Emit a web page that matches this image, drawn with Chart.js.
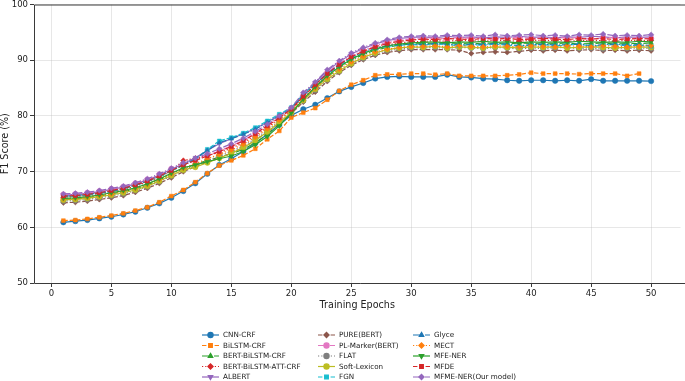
<!DOCTYPE html>
<html>
<head>
<meta charset="utf-8">
<script src="https://cdn.jsdelivr.net/npm/chart.js@4.4.1/dist/chart.umd.min.js"></script>
<style>
  html, body { margin: 0; padding: 0; background: #ffffff; overflow: hidden; }
  #wrap { width: 685px; height: 381px; position: relative; }
</style>
</head>
<body>
<div id="wrap"><canvas id="f1Chart"></canvas></div>
<script>
const epochs = [1,2,3,4,5,6,7,8,9,10,11,12,13,14,15,16,17,18,19,20,21,22,23,24,25,26,27,28,29,30,31,32,33,34,35,36,37,38,39,40,41,42,43,44,45,46,47,48,49,50];

const modelNames = ["CNN-CRF", "BiLSTM-CRF", "BERT-BiLSTM-CRF", "BERT-BiLSTM-ATT-CRF", "ALBERT",
    "PURE(BERT)", "PL-Marker(BERT)", "FLAT", "Soft-Lexicon", "FGN",
    "Glyce", "MECT", "MFE-NER", "MFDE", "MFME-NER(Our model)"];

const xTicks = [0, 5, 10, 15, 20, 25, 30, 35, 40, 45, 50];
const yTicks = [50, 60, 70, 80, 90, 100];

const cnnCrf = [60.9,61.1,61.3,61.6,61.9,62.3,62.8,63.5,64.3,65.3, 66.5,67.9,69.6,71.2,72.3,73.6,75.1,76.7,78.4,80.1, 81.2,82.0,83.2,84.4,85.2,85.9,86.7,87.0,87.1,87.0, 87.0,87.0,87.4,87.0,86.9,86.7,86.6,86.4,86.3,86.4, 86.4,86.3,86.4,86.3,86.6,86.3,86.3,86.3,86.3,86.25];
const bilstmCrf = [61.2,61.3,61.5,61.8,62.1,62.5,63.0,63.6,64.5,65.6, 66.7,68.1,69.7,71.1,72.0,72.9,74.1,75.8,77.3,79.7, 80.6,81.4,82.9,84.5,85.6,86.4,87.3,87.45,87.45,87.6, 87.6,87.4,87.6,87.2,87.2,87.2,87.2,87.3,87.45,87.75, 87.6,87.6,87.6,87.5,87.6,87.6,87.6,87.2,87.6,null];
const bertBilstmCrf = [65.0,65.1,65.3,65.6,66.0,66.4,66.9,67.6,68.5,69.5, 70.6,71.3,72.0,72.6,73.2,74.0,75.2,76.7,78.5,80.6, 83.0,85.1,87.0,88.6,90.0,91.0,91.8,92.3,92.7,92.9, 93.0,92.9,93.1,93.0,92.9,93.1,93.0,92.9,93.1,93.0, 92.9,93.0,93.1,92.9,93.0,93.1,92.9,93.0,93.0,93.1];
const bertAttCrf = [65.4,65.5,65.7,66.0,66.4,66.8,67.4,68.1,69.0,70.1, 72.0,72.4,72.9,73.4,74.2,75.2,76.5,77.9,79.5,81.0, 83.2,85.3,87.3,88.9,90.3,91.3,92.1,92.7,93.1,93.3, 93.4,93.5,93.4,93.6,93.5,93.4,93.6,93.5,93.4,93.6, 93.5,93.6,93.4,93.5,93.6,93.5,93.4,93.6,93.5,93.6];
const albert = [65.8,65.9,66.1,66.4,66.8,67.2,67.8,68.5,69.4,70.4, 71.4,72.5,73.8,75.0,75.9,76.8,77.7,78.9,80.1,81.4, 83.9,86.0,88.1,89.7,91.1,92.1,92.9,93.5,93.9,94.1, 94.2,94.0,94.3,94.1,94.2,94.0,94.2,94.1,94.3,94.1, 94.2,94.0,94.2,94.1,94.3,94.2,94.0,94.2,94.1,94.2];
const pureBert = [64.4,64.5,64.7,65.0,65.3,65.7,66.3,67.0,67.9,68.9, 70.0,70.9,71.7,72.5,73.3,74.3,75.6,77.1,78.7,80.4, 82.5,84.3,86.2,87.8,89.1,90.1,90.9,91.4,91.7,91.9, 91.9,91.9,91.9,91.8,91.2,91.4,91.5,91.4,91.6,91.8, 91.7,91.8,91.7,91.8,91.9,91.7,91.8,91.7,91.8,91.7];
const plMarker = [65.9,66.0,66.2,66.5,66.9,67.3,67.9,68.6,69.5,70.5, 71.3,72.0,72.9,73.7,74.6,75.6,76.9,78.3,79.8,81.3, 83.7,85.8,87.8,89.4,90.8,91.8,92.6,93.2,93.6,93.8, 93.9,94.0,93.8,94.1,93.9,94.0,93.8,94.0,94.1,93.9, 94.0,93.9,94.1,94.0,93.8,94.0,94.1,93.9,94.0,93.9];
const flat = [64.7,64.8,65.0,65.3,65.6,66.0,66.6,67.3,68.2,69.2, 70.3,71.1,72.0,72.8,73.6,74.6,75.9,77.4,79.0,80.7, 82.7,84.6,86.5,88.0,89.3,90.3,91.1,91.7,92.0,92.2, 92.2,92.3,92.1,92.3,92.2,92.1,92.3,92.2,92.0,92.2, 92.1,92.2,92.3,92.1,92.2,92.0,92.2,92.1,92.2,92.1];
const softLexicon = [64.9,65.0,65.2,65.5,65.8,66.2,66.7,67.4,68.3,69.3, 70.3,70.8,71.6,72.4,73.3,74.3,75.6,77.1,78.8,80.6, 82.8,84.8,86.6,88.1,89.4,90.5,91.3,91.9,92.2,92.4, 92.3,92.5,92.2,92.4,92.3,92.2,92.4,92.3,92.2,92.4, 92.3,92.4,92.2,92.3,92.4,92.3,92.2,92.3,92.4,92.3];
const fgn = [65.5,65.6,65.8,66.1,66.4,66.9,67.5,68.2,69.1,70.1, 71.1,72.2,74.0,75.5,76.1,76.9,77.9,79.1,80.3,81.5, 83.8,85.8,87.5,89.0,90.3,91.3,92.0,92.5,92.7,92.8, 92.7,92.9,92.8,92.6,92.8,92.7,92.9,92.7,92.5,92.7, 92.8,92.6,92.7,92.9,92.5,92.7,92.8,92.6,92.7,92.5];
const glyce = [65.6,65.7,65.9,66.2,66.5,67.0,67.6,68.3,69.2,70.2, 71.2,72.3,73.8,75.2,75.9,76.7,77.6,78.8,80.0,81.3, 83.6,85.7,87.6,89.2,90.5,91.5,92.2,92.6,92.8,92.9, 92.8,93.0,92.9,92.7,92.9,92.8,93.0,92.9,92.6,92.8, 92.9,92.7,92.8,92.9,92.6,92.8,92.9,92.7,92.8,92.6];
const mect = [65.1,65.2,65.4,65.7,66.0,66.5,67.0,67.7,68.6,69.6, 70.6,71.4,72.3,73.1,73.9,74.9,76.2,77.7,79.3,80.9, 83.0,85.0,86.9,88.4,89.7,90.7,91.5,92.0,92.3,92.5, 92.5,92.6,92.4,92.6,92.5,92.4,92.6,92.5,92.4,92.6, 92.5,92.4,92.6,92.5,92.4,92.6,92.5,92.4,92.5,92.6];
const mfeNer = [65.2,65.3,65.5,65.8,66.2,66.6,67.1,67.8,68.7,69.7, 70.7,71.2,71.8,72.3,72.8,73.6,74.8,76.3,78.2,80.5, 83.0,85.2,87.2,88.8,90.2,91.2,92.0,92.6,92.9,93.1, 93.2,93.3,93.1,93.3,93.2,93.4,93.2,93.3,93.1,93.3, 93.2,93.3,93.2,93.4,93.3,93.2,93.3,93.2,93.4,93.3];
const mfde = [65.6,65.7,65.9,66.2,66.6,67.0,67.6,68.3,69.2,70.2, 71.2,72.0,72.8,73.6,74.5,75.5,76.8,78.2,79.7,81.2, 83.5,85.6,87.6,89.2,90.6,91.6,92.4,93.0,93.4,93.6, 93.8,93.7,93.9,93.8,93.7,93.9,93.8,93.9,93.7,93.8, 93.9,93.8,93.7,93.9,93.8,93.9,93.7,93.8,93.9,93.8];
const mfmeNer = [66.0,66.1,66.3,66.6,67.0,67.4,68.0,68.7,69.6,70.6, 71.6,72.4,73.2,74.1,75.0,76.0,77.2,78.5,80.0,81.5, 84.2,86.1,88.3,89.9,91.3,92.3,93.1,93.7,94.1,94.3, 94.4,94.3,94.5,94.4,94.5,94.3,94.6,94.4,94.5,94.6, 94.4,94.5,94.3,94.6,94.5,94.7,94.4,94.5,94.4,94.6];

const seriesValues = [cnnCrf, bilstmCrf, bertBilstmCrf, bertAttCrf, albert,
    pureBert, plMarker, flat, softLexicon, fgn,
    glyce, mect, mfeNer, mfde, mfmeNer];

// matplotlib tab10 colours, cycling
const palette = ["#1f77b4", "#ff7f0e", "#2ca02c", "#d62728", "#9467bd",
    "#8c564b", "#e377c2", "#7f7f7f", "#bcbd22", "#17becf",
    "#1f77b4", "#ff7f0e", "#2ca02c", "#d62728", "#9467bd"];

const dashed = [4.4, 1.9];
const dashdot = [7, 1.9, 1.2, 1.9];
const dotted = [1.2, 2];
const lineDashes = [[], dashed, dashdot, dotted, [],
    dashed, dashdot, dotted, [], dashed,
    dashdot, dotted, [], dashed, dashdot];

const markers = [
    { style: "circle", rot: 0 }, { style: "rect", rot: 0 }, { style: "triangle", rot: 0 },
    { style: "rectRot", rot: 0 }, { style: "triangle", rot: 180 },
    { style: "rectRot", rot: 0 }, { style: "circle", rot: 0 }, { style: "circle", rot: 0 },
    { style: "circle", rot: 0 }, { style: "rect", rot: 0 },
    { style: "triangle", rot: 0 }, { style: "rectRot", rot: 0 }, { style: "triangle", rot: 180 },
    { style: "rectRot", rot: 45 }, { style: "rectRot", rot: 0 }
];

const fontFamily = "'DejaVu Sans', sans-serif";

const datasets = modelNames.map((name, i) => ({
    label: name,
    data: epochs.map((e, k) => ({ x: e, y: seriesValues[i][k] })),
    borderColor: palette[i],
    backgroundColor: palette[i],
    pointBackgroundColor: palette[i],
    pointBorderColor: palette[i],
    borderWidth: 1.2,
    borderDash: lineDashes[i],
    pointStyle: markers[i].style,
    rotation: markers[i].rot,
    pointRadius: 2.7,
    pointBorderWidth: 0.5,
    tension: 0,
    spanGaps: false,
    order: modelNames.length - i
}));

// left, top and bottom spines (the right one sits just past the canvas edge)
const framePlugin = {
    id: "frame",
    afterDatasetsDraw(chart) {
        const a = chart.chartArea;
        const ctx = chart.ctx;
        ctx.save();
        ctx.strokeStyle = "#3a3a3a";
        ctx.lineWidth = 1;
        ctx.beginPath();
        ctx.moveTo(chart.width + 2, a.top + 0.5);
        ctx.lineTo(a.left + 0.5, a.top + 0.5);
        ctx.lineTo(a.left + 0.5, a.bottom + 0.5);
        ctx.lineTo(chart.width + 2, a.bottom + 0.5);
        ctx.stroke();
        ctx.restore();
    }
};

// three-column legend under the axis title
const legendPlugin = {
    id: "colLegend",
    afterDraw(chart) {
        const ctx = chart.ctx;
        const colX = [202, 318, 413];
        const rowY = [335, 345.5, 356, 366.5, 377];
        ctx.save();
        ctx.font = "7.2px " + fontFamily;
        ctx.textBaseline = "middle";
        ctx.textAlign = "left";
        chart.data.datasets.forEach((ds, i) => {
            const x = colX[Math.floor(i / 5)];
            const y = rowY[i % 5];
            ctx.strokeStyle = ds.borderColor;
            ctx.lineWidth = 1.2;
            ctx.setLineDash(ds.borderDash);
            ctx.beginPath();
            ctx.moveTo(x, y);
            ctx.lineTo(x + 17, y);
            ctx.stroke();
            ctx.setLineDash([]);
            ctx.fillStyle = ds.borderColor;
            Chart.helpers.drawPoint(ctx, {
                pointStyle: ds.pointStyle,
                rotation: ds.rotation,
                radius: 2.6,
                borderWidth: 0.5
            }, x + 8.5, y);
            ctx.fillStyle = "#1a1a1a";
            ctx.fillText(ds.label, x + 21, y + 0.5);
        });
        ctx.restore();
    }
};

const ctx = document.getElementById("f1Chart");

new Chart(ctx, {
    type: "line",
    data: { datasets: datasets },
    options: {
        responsive: true,
        maintainAspectRatio: false,
        animation: false,
        layout: {
            padding: { top: 3, left: 0, right: 0, bottom: 68 }
        },
        plugins: {
            legend: { display: false },
            tooltip: { enabled: false }
        },
        scales: {
            x: {
                type: "linear",
                min: -1.45,
                max: 52.45,
                afterBuildTicks: function(scale) {
                    scale.ticks = xTicks.map(v => ({ value: v }));
                },
                afterFit: function(scale) {
                    scale.height = 30;
                    scale.paddingLeft = 0;
                    scale.paddingRight = 0;
                },
                ticks: {
                    color: "#222222",
                    padding: 2,
                    maxRotation: 0,
                    font: { family: fontFamily, size: 8.5 }
                },
                grid: {
                    color: "rgba(176, 176, 176, 0.3)",
                    tickColor: "#3a3a3a",
                    tickLength: 4
                },
                border: { display: false },
                title: {
                    display: true,
                    text: "Training Epochs",
                    color: "#222222",
                    padding: { top: 2, bottom: 2 },
                    font: { family: fontFamily, size: 9.6 }
                }
            },
            y: {
                min: 50,
                max: 100,
                afterBuildTicks: function(scale) {
                    scale.ticks = yTicks.map(v => ({ value: v }));
                },
                afterFit: function(scale) {
                    scale.width = 34;
                    scale.paddingTop = 0;
                    scale.paddingBottom = 0;
                },
                ticks: {
                    color: "#222222",
                    padding: 2,
                    font: { family: fontFamily, size: 8.5 }
                },
                grid: {
                    color: "rgba(176, 176, 176, 0.3)",
                    tickColor: "#3a3a3a",
                    tickLength: 4
                },
                border: { display: false },
                title: {
                    display: true,
                    text: "F1 Score (%)",
                    color: "#222222",
                    padding: { top: 0, bottom: 0 },
                    font: { family: fontFamily, size: 9.6 }
                }
            }
        }
    },
    plugins: [framePlugin, legendPlugin]
});
</script>
</body>
</html>
